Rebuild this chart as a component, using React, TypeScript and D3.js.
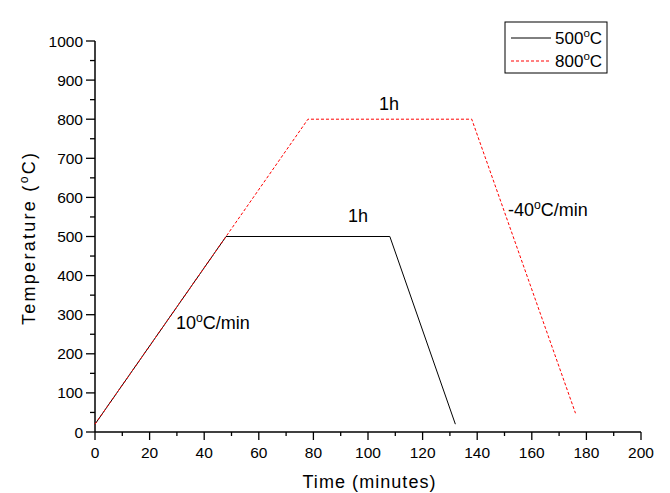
import React from "react";
import * as d3 from "d3";

const series500X = [0, 48, 108, 132];
const series500Y = [20, 500, 500, 20];
const series800X = [0, 78, 138, 176];
const series800Y = [20, 800, 800, 48];
const xTicks = [0, 20, 40, 60, 80, 100, 120, 140, 160, 180, 200];
const yTicks = [0, 100, 200, 300, 400, 500, 600, 700, 800, 900, 1000];
const legendLabels = ["500", "800"];

const W = 670, H = 493;
const FONT = "Liberation Sans, Arial, sans-serif";

export default function App() {
  const x = d3.scaleLinear().domain([0, 200]).range([95, 641]);
  const y = d3.scaleLinear().domain([0, 1000]).range([432, 41]);
  const line = d3.line<[number, number]>().x(d => x(d[0])).y(d => y(d[1]));
  const d500 = line(series500X.map((v, i) => [v, series500Y[i]] as [number, number]));
  const d800 = line(series800X.map((v, i) => [v, series800Y[i]] as [number, number]));
  const xMinor = d3.range(10, 200, 20);
  const yMinor = d3.range(50, 1000, 100);

  const Deg = ({ pre, post, ...rest }: any) => (
    <text {...rest}>
      {pre}
      <tspan dy={-7} fontSize="0.68em">o</tspan>
      <tspan dy={7}>{post}</tspan>
    </text>
  );

  return (
    <svg width={W} height={H} style={{ position: "absolute", left: 0, top: 0, background: "#fff" }} fontFamily={FONT}>
      <rect width={W} height={H} fill="#fff" />
      {/* axes */}
      <line x1={x(0)} x2={x(200)} y1={y(0)} y2={y(0)} stroke="#000" strokeWidth={1.5} />
      <line x1={x(0)} x2={x(0)} y1={y(0)} y2={y(1000)} stroke="#000" strokeWidth={1.5} />
      {xTicks.map(t => (
        <g key={"xt" + t}>
          <line x1={x(t)} x2={x(t)} y1={y(0)} y2={y(0) + 8} stroke="#000" strokeWidth={1.3} />
          <text x={x(t)} y={y(0) + 26} textAnchor="middle" fontSize={15.5}>{t}</text>
        </g>
      ))}
      {xMinor.map(t => (
        <line key={"xm" + t} x1={x(t)} x2={x(t)} y1={y(0)} y2={y(0) + 4} stroke="#000" strokeWidth={1.3} />
      ))}
      {yTicks.map(t => (
        <g key={"yt" + t}>
          <line x1={x(0)} x2={x(0) - 9} y1={y(t)} y2={y(t)} stroke="#000" strokeWidth={1.3} />
          <text x={x(0) - 12} y={y(t) + 5.5} textAnchor="end" fontSize={15.5}>{t}</text>
        </g>
      ))}
      {yMinor.map(t => (
        <line key={"ym" + t} x1={x(0)} x2={x(0) - 5} y1={y(t)} y2={y(t)} stroke="#000" strokeWidth={1.3} />
      ))}
      {/* axis titles */}
      <text x={369} y={488} textAnchor="middle" fontSize={18} textLength={133} lengthAdjust="spacing">Time (minutes)</text>
      <g transform="translate(35,239) rotate(-90)">
        <text x={-86} y={0} fontSize={18} textLength={172} lengthAdjust="spacing">
          Temperature (<tspan dy={-7} fontSize="0.68em">o</tspan><tspan dy={7}>C)</tspan>
        </text>
      </g>
      {/* lines */}
      <path d={d500 || ""} fill="none" stroke="#000" strokeWidth={1} />
      <path d={d800 || ""} fill="none" stroke="#ff0000" strokeWidth={1} strokeDasharray="3,2" />
      {/* annotations */}
      <text x={389} y={110} textAnchor="middle" fontSize={18}>1h</text>
      <text x={358} y={222} textAnchor="middle" fontSize={18}>1h</text>
      <Deg x={176} y={329} fontSize={18} pre="10" post="C/min" />
      <Deg x={508} y={216} fontSize={18} pre="-40" post="C/min" />
      {/* legend */}
      <rect x={505} y={22} width={102} height={51} fill="#fff" stroke="#000" strokeWidth={1} />
      <line x1={511} x2={551} y1={38} y2={38} stroke="#000" strokeWidth={1} />
      <line x1={511} x2={551} y1={61} y2={61} stroke="#ff0000" strokeWidth={1} strokeDasharray="3,2" />
      <Deg x={555} y={44} fontSize={17} pre={legendLabels[0]} post="C" />
      <Deg x={555} y={67} fontSize={17} pre={legendLabels[1]} post="C" />
    </svg>
  );
}
